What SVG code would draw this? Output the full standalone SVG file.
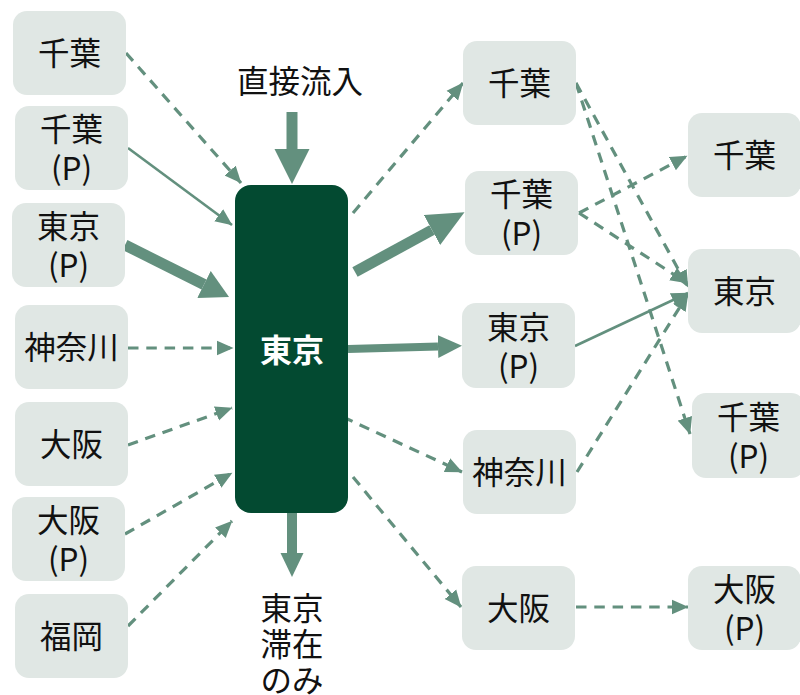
<svg xmlns="http://www.w3.org/2000/svg" width="800" height="695" viewBox="0 0 800 695">
<style>
.box{fill:#e0e7e4}
.lbl{font-family:"Noto Sans CJK JP","Noto Sans",sans-serif;font-size:31.5px;fill:#111;text-anchor:middle}
.ctr{font-family:"Noto Sans CJK JP","Noto Sans",sans-serif;font-size:32px;font-weight:bold;fill:#fff;text-anchor:middle}
.dash{stroke:#63907e;stroke-width:3.2;fill:none;stroke-dasharray:10.5 7.8;marker-end:url(#ah)}
.solid{stroke:#63907e;stroke-width:2.6;fill:none;marker-end:url(#ah)}
.thick{stroke:#63907e;fill:none}
</style>
<defs>
<marker id="ah" markerUnits="userSpaceOnUse" markerWidth="18" markerHeight="16" refX="16.5" refY="8" orient="auto">
<path d="M0,0.5 L17,8 L0,15.5 Z" fill="#63907e"/>
</marker>
<marker id="hbig" markerUnits="userSpaceOnUse" markerWidth="36" markerHeight="36" refX="0" refY="18" orient="auto">
<path d="M0,0.5 L35,18 L0,35.5 Z" fill="#63907e"/>
</marker>
<marker id="hmid" markerUnits="userSpaceOnUse" markerWidth="38" markerHeight="34" refX="0" refY="17" orient="auto">
<path d="M0,0 L37,17 L0,34 Z" fill="#63907e"/>
</marker>
<marker id="hlft" markerUnits="userSpaceOnUse" markerWidth="30" markerHeight="32" refX="0" refY="16" orient="auto">
<path d="M0,1 L28,16 L0,31 Z" fill="#63907e"/>
</marker>
<marker id="hsm" markerUnits="userSpaceOnUse" markerWidth="25" markerHeight="24" refX="0" refY="12" orient="auto">
<path d="M0,0.5 L24,12 L0,23.5 Z" fill="#63907e"/>
</marker>
</defs>

<g id="connectors">
<path class="thick" d="M292,112 L292,149" stroke-width="11" marker-end="url(#hbig)"/>
<path class="thick" d="M125,245 L204,284.5" stroke-width="11" marker-end="url(#hlft)"/>
<path class="thick" d="M355,272 L432,230" stroke-width="11" marker-end="url(#hmid)"/>
<path class="thick" d="M348,349 L438,346.5" stroke-width="8" marker-end="url(#hsm)"/>
<path class="thick" d="M292,512 L292,553" stroke-width="10" marker-end="url(#hsm)"/>

<path class="dash" d="M126,53 L241,183"/>
<path class="solid" d="M128,148 L232,225"/>
<path class="dash" d="M128,348 L233,348"/>
<path class="dash" d="M128,445 L232,408"/>
<path class="dash" d="M125,534 L232,473"/>
<path class="dash" d="M128,626 L232,521"/>

<path class="dash" d="M353,213 L463,83"/>
<path class="dash" d="M343,417 L462,472"/>
<path class="dash" d="M353,477 L461,607"/>

<path class="dash" d="M576,83 L688,287"/>
<path class="dash" d="M576,83 L690,434"/>
<path class="dash" d="M579,213 L687,156"/>
<path class="dash" d="M579,213 L687,283"/>
<path class="solid" d="M575,346 L688,293"/>
<path class="dash" d="M577,472 L688,294"/>
<path class="dash" d="M576,607 L688,607"/>
</g>

<g id="inflow-label"><text class="lbl" x="300" y="93">直接流入</text></g>
<g id="stay-label">
<text class="lbl" x="292" y="620">東京</text>
<text class="lbl" x="292" y="656">滞在</text>
<text class="lbl" x="292" y="692">のみ</text>
</g>

<g id="center"><rect x="235" y="185" width="113" height="328" rx="16" fill="#034a31"/><text class="ctr" x="292" y="362">東京</text></g>

<g id="l-chiba"><rect class="box" x="13" y="11" width="113" height="84" rx="14"/><text class="lbl" x="69.5" y="65">千葉</text></g>
<g id="l-chibap"><rect class="box" x="15" y="106" width="113" height="84" rx="14"/><text class="lbl" x="71.5" y="141">千葉</text><text class="lbl" x="71.5" y="180">(P)</text></g>
<g id="l-tokyop"><rect class="box" x="12" y="203" width="113" height="84" rx="14"/><text class="lbl" x="68.5" y="238">東京</text><text class="lbl" x="68.5" y="277">(P)</text></g>
<g id="l-kanagawa"><rect class="box" x="15" y="305" width="113" height="84" rx="14"/><text class="lbl" x="71.5" y="359">神奈川</text></g>
<g id="l-osaka"><rect class="box" x="15" y="402" width="113" height="84" rx="14"/><text class="lbl" x="71.5" y="456">大阪</text></g>
<g id="l-osakap"><rect class="box" x="12" y="497" width="113" height="84" rx="14"/><text class="lbl" x="68.5" y="532">大阪</text><text class="lbl" x="68.5" y="571">(P)</text></g>
<g id="l-fukuoka"><rect class="box" x="15" y="594" width="113" height="84" rx="14"/><text class="lbl" x="71.5" y="648">福岡</text></g>

<g id="m-chiba"><rect class="box" x="463" y="41" width="113" height="84" rx="14"/><text class="lbl" x="519.5" y="95">千葉</text></g>
<g id="m-chibap"><rect class="box" x="465" y="171" width="113" height="84" rx="14"/><text class="lbl" x="521.5" y="206">千葉</text><text class="lbl" x="521.5" y="245">(P)</text></g>
<g id="m-tokyop"><rect class="box" x="462" y="303" width="113" height="85" rx="14"/><text class="lbl" x="518.5" y="339">東京</text><text class="lbl" x="518.5" y="378">(P)</text></g>
<g id="m-kanagawa"><rect class="box" x="463" y="430" width="113" height="84" rx="14"/><text class="lbl" x="519.5" y="484">神奈川</text></g>
<g id="m-osaka"><rect class="box" x="462" y="566" width="113" height="84" rx="14"/><text class="lbl" x="518.5" y="620">大阪</text></g>

<g id="r-chiba"><rect class="box" x="688" y="113" width="113" height="84" rx="14"/><text class="lbl" x="744.5" y="167">千葉</text></g>
<g id="r-tokyo"><rect class="box" x="688" y="249" width="113" height="84" rx="14"/><text class="lbl" x="744.5" y="303">東京</text></g>
<g id="r-chibap"><rect class="box" x="692" y="393" width="113" height="85" rx="14"/><text class="lbl" x="748.5" y="429">千葉</text><text class="lbl" x="748.5" y="468">(P)</text></g>
<g id="r-osakap"><rect class="box" x="688" y="566" width="113" height="84" rx="14"/><text class="lbl" x="744.5" y="601">大阪</text><text class="lbl" x="744.5" y="640">(P)</text></g>
</svg>
